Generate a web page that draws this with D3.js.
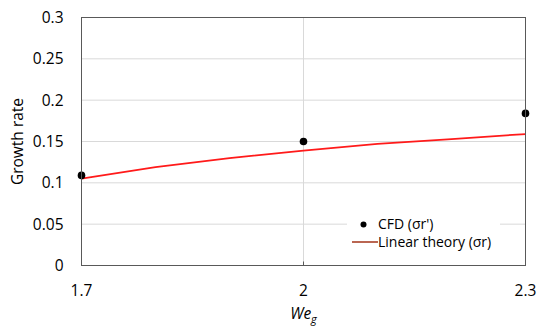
<!DOCTYPE html>
<html>
<head>
<meta charset="utf-8">
<script src="https://cdn.jsdelivr.net/npm/d3@7"></script>
<style>
  body { margin: 0; background: #fff; }
  text { font-family: "Open Sans", sans-serif; fill: #000; }
</style>
</head>
<body>
<svg id="chart" width="550" height="334"></svg>
<script>
// data
var cfdWe = [1.7, 2.0, 2.3],
    cfdRate = [0.109, 0.150, 0.184];

var theoryWe = [1.7, 1.8, 1.9, 2.0, 2.1, 2.2, 2.3],
    theoryRate = [0.105, 0.119, 0.130, 0.139, 0.147, 0.153, 0.159];

var xTicks = [1.7, 2, 2.3],
    yTicks = [0, 0.05, 0.1, 0.15, 0.2, 0.25, 0.3];

var margin = {left: 81.5, right: 24.5, top: 17.5, bottom: 68.5},
    width = 550, height = 334;

var svg = d3.select("#chart");

var x = d3.scaleLinear().domain([1.7, 2.3]).range([margin.left, width - margin.right]);
var y = d3.scaleLinear().domain([0, 0.3]).range([height - margin.bottom, margin.top]);

// grid
svg.append("g").selectAll("line.h")
  .data(yTicks.slice(1))
  .join("line")
    .attr("x1", x(1.7)).attr("x2", x(2.3))
    .attr("y1", d => y(d)).attr("y2", d => y(d))
    .attr("stroke", "#d9d9d9").attr("stroke-width", 1);

svg.append("line")
    .attr("x1", x(2)).attr("x2", x(2))
    .attr("y1", y(0)).attr("y2", y(0.3))
    .attr("stroke", "#d9d9d9").attr("stroke-width", 1);

// tick labels
svg.append("g").selectAll("text")
  .data(yTicks)
  .join("text")
    .attr("x", 63.5)
    .attr("y", d => y(d))
    .attr("dy", "0.36em")
    .attr("text-anchor", "end")
    .attr("font-size", 15.5)
    .text(d => d3.format("")(d));

svg.append("g").selectAll("text")
  .data(xTicks)
  .join("text")
    .attr("x", d => x(d))
    .attr("y", 296)
    .attr("text-anchor", "middle")
    .attr("font-size", 15.5)
    .text(d => d);

// line + points
var line = d3.line().x(d => x(d[0])).y(d => y(d[1]));
svg.append("path")
    .datum(d3.zip(theoryWe, theoryRate))
    .attr("d", line)
    .attr("fill", "none")
    .attr("stroke", "#ff1a1a")
    .attr("stroke-width", 1.75);

svg.append("g").selectAll("circle")
  .data(d3.zip(cfdWe, cfdRate))
  .join("circle")
    .attr("cx", d => x(d[0]))
    .attr("cy", d => y(d[1]))
    .attr("r", 3.8)
    .attr("fill", "#000");

// legend
var lg = svg.append("g");
lg.append("rect")
    .attr("x", 347).attr("y", 213)
    .attr("width", 153).attr("height", 40)
    .attr("fill", "#fff");
lg.append("circle").attr("cx", 363.5).attr("cy", 224.5).attr("r", 3).attr("fill", "#000");
lg.append("text").attr("x", 378).attr("y", 224.5).attr("dy", "0.35em")
    .attr("font-size", 14).text("CFD (σr')");
lg.append("line").attr("x1", 352).attr("x2", 378).attr("y1", 242).attr("y2", 242)
    .attr("stroke", "#b0503a").attr("stroke-width", 1.75);
lg.append("text").attr("x", 378).attr("y", 242).attr("dy", "0.35em")
    .attr("font-size", 14).text("Linear theory (σr)");

// frame
svg.append("rect")
    .attr("x", x(1.7)).attr("y", y(0.3))
    .attr("width", x(2.3) - x(1.7)).attr("height", y(0) - y(0.3))
    .attr("fill", "none").attr("stroke", "#595959").attr("stroke-width", 1);
svg.append("line")
    .attr("x1", x(2)).attr("x2", x(2))
    .attr("y1", y(0) - 4).attr("y2", y(0))
    .attr("stroke", "#595959");

// axis titles
var xt = svg.append("text")
    .attr("x", x(2)).attr("y", 319)
    .attr("text-anchor", "middle")
    .attr("font-size", 15.5)
    .attr("font-style", "italic");
xt.append("tspan").text("We");
xt.append("tspan").attr("dy", 4).attr("font-size", 11).text("g");

svg.append("text")
    .attr("transform", "translate(23," + y(0.15) + ") rotate(-90)")
    .attr("text-anchor", "middle")
    .attr("font-size", 15.5)
    .text("Growth rate");
</script>
</body>
</html>
